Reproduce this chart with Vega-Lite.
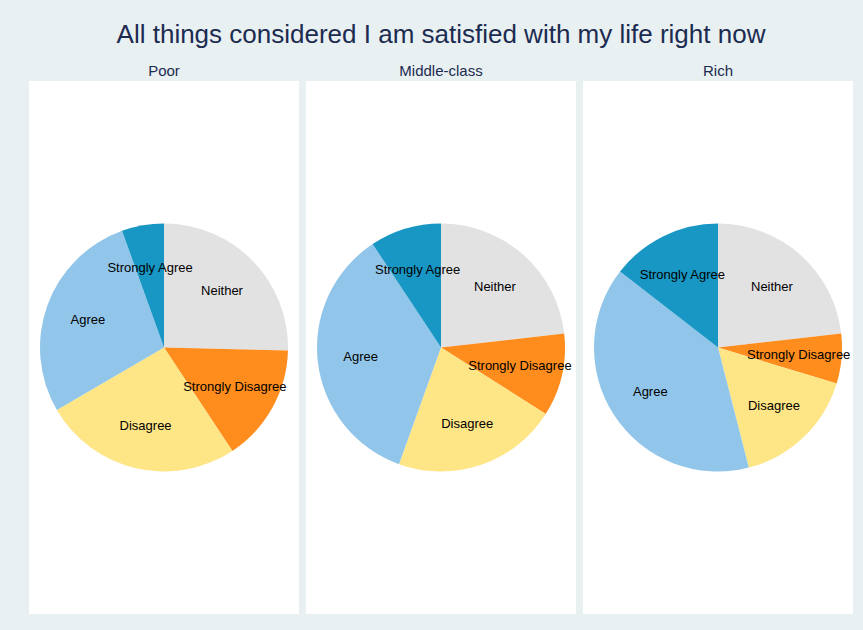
{
  "$schema": "https://vega.github.io/schema/vega-lite/v6.json",
  "background": "#e8f0f2",
  "padding": {"left": 29, "top": 22, "right": 10, "bottom": 16},
  "title": {
    "text": "All things considered I am satisfied with my life right now",
    "font": "Liberation Sans",
    "fontSize": 26,
    "fontWeight": "normal",
    "color": "#1c2b50",
    "anchor": "middle",
    "offset": 16
  },
  "data": {
    "values": [
      {"class": "Poor", "response": "Neither", "pct": 25.4, "order": 1},
      {"class": "Poor", "response": "Strongly Disagree", "pct": 15.3, "order": 2},
      {"class": "Poor", "response": "Disagree", "pct": 25.9, "order": 3},
      {"class": "Poor", "response": "Agree", "pct": 27.9, "order": 4},
      {"class": "Poor", "response": "Strongly Agree", "pct": 5.5, "order": 5},
      {"class": "Middle-class", "response": "Neither", "pct": 23.2, "order": 1},
      {"class": "Middle-class", "response": "Strongly Disagree", "pct": 10.8, "order": 2},
      {"class": "Middle-class", "response": "Disagree", "pct": 21.5, "order": 3},
      {"class": "Middle-class", "response": "Agree", "pct": 35.2, "order": 4},
      {"class": "Middle-class", "response": "Strongly Agree", "pct": 9.3, "order": 5},
      {"class": "Rich", "response": "Neither", "pct": 23.2, "order": 1},
      {"class": "Rich", "response": "Strongly Disagree", "pct": 6.5, "order": 2},
      {"class": "Rich", "response": "Disagree", "pct": 16.3, "order": 3},
      {"class": "Rich", "response": "Agree", "pct": 39.5, "order": 4},
      {"class": "Rich", "response": "Strongly Agree", "pct": 14.5, "order": 5}
    ]
  },
  "facet": {
    "column": {
      "field": "class",
      "type": "nominal",
      "sort": ["Poor", "Middle-class", "Rich"],
      "header": {
        "title": null,
        "labelFont": "Liberation Sans",
        "labelFontSize": 15,
        "labelColor": "#1c2b50",
        "labelPadding": 2
      }
    }
  },
  "spacing": 7,
  "spec": {
    "width": 270,
    "height": 533,
    "view": {"fill": "white", "stroke": null},
    "encoding": {
      "theta": {"field": "pct", "type": "quantitative", "stack": true},
      "order": {"field": "order", "type": "quantitative"}
    },
    "layer": [
      {
        "mark": {"type": "arc", "outerRadius": 124},
        "encoding": {
          "color": {
            "field": "response",
            "type": "nominal",
            "legend": null,
            "scale": {
              "domain": ["Neither", "Strongly Disagree", "Disagree", "Agree", "Strongly Agree"],
              "range": ["#e2e2e2", "#fe8d1d", "#fee585", "#91c6ea", "#1997c4"]
            }
          }
        }
      },
      {
        "mark": {"type": "text", "radius": 81, "font": "Liberation Sans", "fontSize": 13, "color": "#000000", "align": "center", "baseline": "middle"},
        "encoding": {
          "text": {"field": "response", "type": "nominal"}
        }
      }
    ]
  },
  "config": {
    "view": {"fill": "white", "stroke": null},
    "style": {"cell": {"fill": "white", "stroke": null}}
  }
}
